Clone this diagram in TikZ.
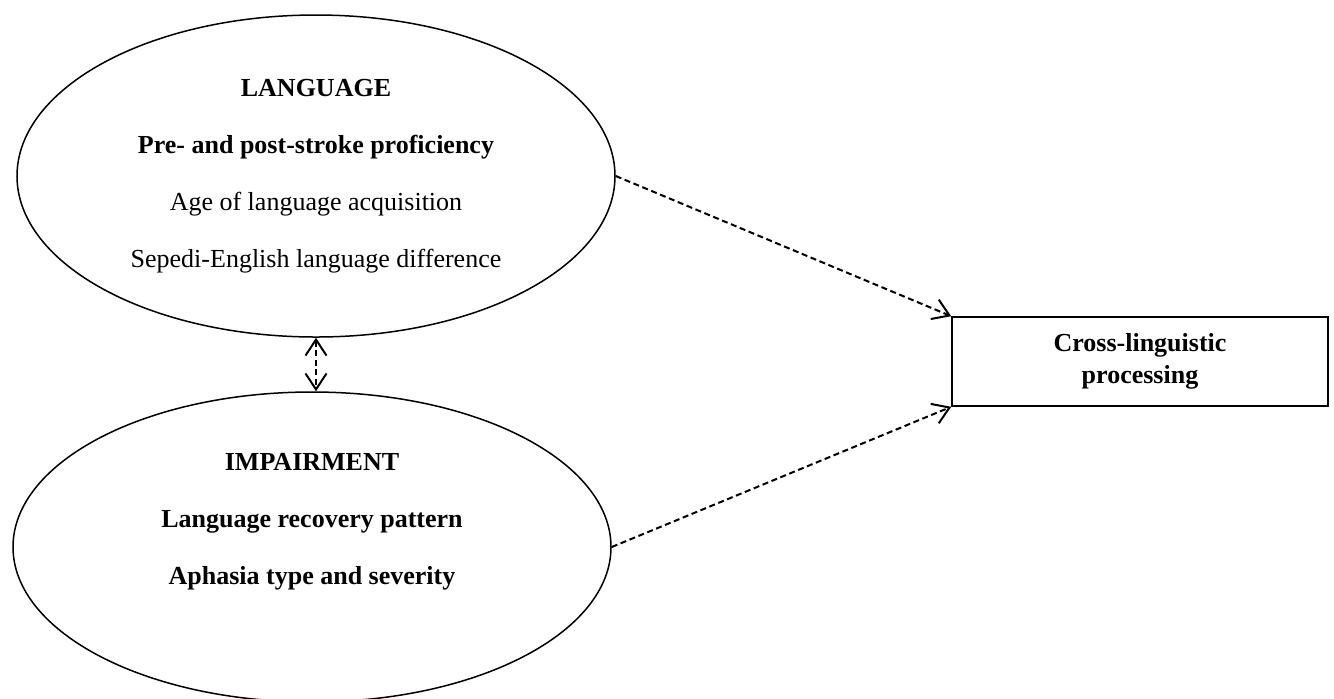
\documentclass[tikz,border=0pt]{standalone}
\usepackage{fontspec}
\setmainfont{Liberation Serif}
\usetikzlibrary{arrows.meta}
\usetikzlibrary{shapes.geometric}

\begin{document}
\begin{tikzpicture}[x=0.5pt,y=-0.5pt,
    factor/.style={draw,ellipse,line width=0.75pt,minimum width=299pt,inner sep=0pt},
    lines/.style={align=center,font=\fontsize{13pt}{28.5pt}\selectfont},
    barb/.tip={Straight Barb[length=8pt,width=10.5pt]},
    link/.style={line width=1pt,dash pattern=on 3pt off 1.8pt,-barb}]
\useasboundingbox (0,0) rectangle (1334,698);
\begin{scope}
   	\node[factor,minimum height=161pt] (lang) at (316,176) {};
   	\node[factor,minimum height=155pt] (impair) at (312,547) {};
   	\node[draw,line width=0.8pt,minimum width=188pt,minimum height=44.5pt,align=center,
   	      font=\fontsize{13pt}{16pt}\selectfont\bfseries] (outcome) at (1140,361.5)
   	      {Cross-linguistic\\processing};
   	\node[lines] (langtxt) at (lang.center)
   	      {\textbf{LANGUAGE}\\\textbf{Pre- and post-stroke proficiency}\\Age of language acquisition\\Sepedi-English language difference};
   	\node[lines] (imptxt) at ([yshift=12.5pt]impair.center)
   	      {\textbf{IMPAIRMENT}\\\textbf{Language recovery pattern}\\\textbf{Aphasia type and severity}};
   	%\draw (lang.east) node {$\bullet$};
   	%\draw (impair.east) node {$\bullet$};
   	\draw[link] (lang.east) -- (outcome.north west);
   	\draw[link] (impair.east) -- (outcome.south west);
    \draw[link,barb-barb] (lang.south) to (lang.south |- impair.north);
\end{scope}
\end{tikzpicture}
\end{document}
